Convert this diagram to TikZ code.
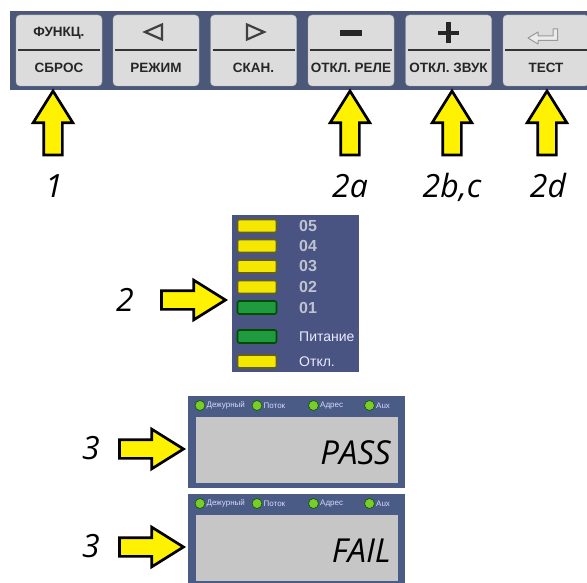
\documentclass[tikz,border=0pt]{standalone}
\usepackage{fontspec}
\setmainfont{Liberation Sans}
\newfontfamily\numfont{Open Sans}
\usepackage{tikz}
\usetikzlibrary{shapes.arrows,positioning}

\definecolor{panelblue}{HTML}{4B5879}
\definecolor{ledpanel}{HTML}{4A5483}
\definecolor{lcdpanel}{HTML}{4A5B86}
\definecolor{keygrey}{HTML}{DCDCDC}
\definecolor{lcdgrey}{HTML}{C6C6C6}
\definecolor{ledyellow}{HTML}{F4E800}
\definecolor{ledgreen}{HTML}{1F9A3E}
\definecolor{dotgreen}{HTML}{7CCB2A}
\definecolor{digitgrey}{HTML}{BFC2CF}

\tikzset{
  callout/.style={single arrow, draw=black, line width=2.7pt, fill=yellow,
    minimum height=64pt, minimum width=38pt, inner sep=8pt,
    single arrow head extend=10.5pt, single arrow tip angle=64},
  numlabel/.style={font=\numfont\itshape\fontsize{32}{32}\selectfont, inner sep=0pt},
  keybox/.style={draw=black!30, fill=keygrey, rounded corners=4pt,
    minimum width=86pt, minimum height=71pt, inner sep=0pt},
  keytext/.style={font=\bfseries\fontsize{13.5}{13.5}\selectfont, text=black!85, inner sep=0pt},
  keyline/.style={draw=black!80, line width=1.8pt},
  ledbar/.style={rounded corners=2pt, line width=1.6pt, minimum width=39pt, minimum height=13pt, inner sep=0pt},
  leddigit/.style={font=\bfseries\fontsize{16}{16}\selectfont, text=digitgrey, inner sep=0pt, anchor=west},
  ledword/.style={font=\fontsize{14}{14}\selectfont, text=white!92!blue, inner sep=0pt, anchor=west},
  dot/.style={circle, fill=dotgreen, draw=green!35!black, line width=0.6pt, minimum size=10pt, inner sep=0pt},
  dotword/.style={font=\fontsize{8}{8}\selectfont, text=white!85!blue, inner sep=0pt, anchor=west},
  lcdtext/.style={font=\numfont\itshape\fontsize{33}{33}\selectfont, inner sep=0pt, anchor=east}
}

\begin{document}
\begin{tikzpicture}[x=1pt,y=-1pt]
  \useasboundingbox (0,0) rectangle (587,583);

  \fill[panelblue] (10,11) rectangle (590,90);
  \foreach \i/\x/\txt in {1/59/СБРОС, 2/156/РЕЖИМ, 3/253.5/СКАН., 4/351/ОТКЛ. РЕЛЕ, 5/448.5/ОТКЛ. ЗВУК, 6/546/ТЕСТ} {
    \node[keybox] (key\i) at (\x,50.5) {};
    \draw[keyline] (\x-41,50) -- (\x+41,50);
    \node[keytext] (low\i) at (\x,68) {\txt};
  }
  \node[keytext] (up1) at (59,33) {ФУНКЦ.};
  \draw[draw=black!75, line width=2.2pt, line join=miter] (145,32) -- (162,24.5) -- (162,39.5) -- cycle;
  \draw[draw=black!75, line width=2.2pt, line join=miter] (247,24.5) -- (247,39.5) -- (264,32) -- cycle;
  \fill[black!85] (340,30) rectangle (362,36);
  \fill[black!85] (438,31) rectangle (459,35.5);
  \fill[black!85] (446.3,22.5) rectangle (450.7,43.5);
  \filldraw[fill=white!92!black, draw=black!40, line width=1pt, line join=round]
    (528,38) -- (538,32) -- (538,36) -- (553,36) -- (553,29) -- (557.5,29)
    -- (557.5,40.5) -- (538,40.5) -- (538,44) -- cycle;

  \node[callout, rotate=90] (a1) at (53,130.5) {};
  \node[callout, rotate=90] (a2a) at (350,130.5) {};
  \node[callout, rotate=90] (a2b) at (452,130.5) {};
  \node[callout, rotate=90] (a2d) at (547,130.5) {};
  \node[numlabel, anchor=base] (n1) at (54,198) {1};
  \node[numlabel, anchor=base] (n2a) at (350,198) {2a};
  \node[numlabel, anchor=base] (n2b) at (452,198) {2b,c};
  \node[numlabel, anchor=base] (n2d) at (548,198) {2d};

  \fill[ledpanel] (232,215) rectangle (359,372);
  \foreach \n/\y/\c/\e in {05/226/ledyellow/olive!60!black, 04/246/ledyellow/olive!60!black,
      03/266.5/ledyellow/olive!60!black, 02/287/ledyellow/olive!60!black, 01/307.5/ledgreen/green!30!black} {
    \node[ledbar, fill=\c, draw=\e] (led\n) at (257,\y) {};
    \node[leddigit] (txt\n) at (299,\y) {\n};
  }
  \node[ledbar, fill=ledgreen, draw=green!30!black] (ledpwr) at (257,336.5) {};
  \node[ledword] (txtpwr) at (299,336.5) {Питание};
  \node[ledbar, fill=ledyellow, draw=olive!60!black] (ledoff) at (257,361.5) {};
  \node[ledword] (txtoff) at (299,361.5) {Откл.};
  \node[callout] (a2) at (186,300) {};
  \node[numlabel] (n2) at (125,300) {2};

  \foreach \k/\t/\w in {1/396/PASS, 2/494/FAIL} {
    \fill[lcdpanel] (188,\t) rectangle (405,\t+92);
    \fill[lcdgrey] (196,\t+21) rectangle (398,\t+87);
    \foreach \x/\s in {200/Дежурный, 257/Поток, 313.5/Адрес, 369.5/Aux} {
      \node[dot] (dot\k\s) at (\x,\t+9.5) {};
      \node[dotword] at (\x+6.5,\t+9.5) {\s};
    }
    \node[lcdtext] (lcd\k) at (391,\t+57) {\w};
    \node[callout] (a3\k) at (144,\t+53) {};
    \node[numlabel] (n3\k) at (91,\t+52) {3};
  }
\end{tikzpicture}
\end{document}
